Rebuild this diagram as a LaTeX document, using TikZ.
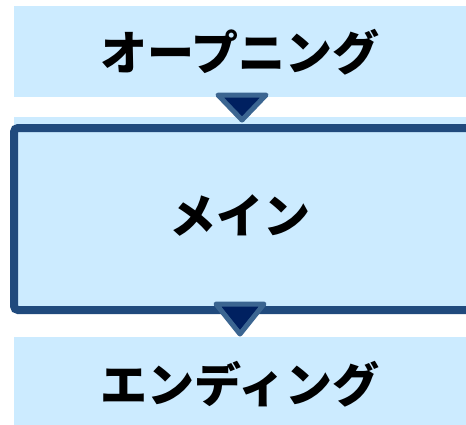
\documentclass[tikz,border=0pt]{standalone}
\usepackage{fontspec}
\newfontfamily\cjk{Noto Sans CJK JP}[BoldFont={Noto Sans CJK JP Black}]
\definecolor{lb}{HTML}{CCEBFF}
\definecolor{dk}{HTML}{204A7D}
\definecolor{tri}{HTML}{002060}
\definecolor{triedge}{HTML}{3B6591}
\tikzset{
  lbbox/.style={fill=lb, draw=none},
  lbl/.style={font=\cjk\bfseries\fontsize{47}{52}\selectfont, text=black, inner sep=0pt},
  arrowtri/.style={fill=tri, draw=triedge, line width=5pt, line join=round}
}
\begin{document}
\begin{tikzpicture}[x=1pt,y=-1pt]
\useasboundingbox (0,0) rectangle (466,424);
\fill[white] (0,0) rectangle (466,424);
% top box
\fill[lbbox] (14,6) rectangle (470,97);
\node[lbl] (open) at (240,52) {オープニング};
% main box
\fill[lbbox] (14,117) rectangle (470,312);
\draw[dk, line width=8pt, rounded corners=4pt, fill=lb] (14,128) rectangle (476,310);
\node[lbl] (main) at (240,216) {メイン};
% bottom box
\fill[lbbox] (14,337) rectangle (470,430);
\node[lbl] (end) at (240,384) {エンディング};
% triangles
\draw[arrowtri] (218,95) -- (266,95) -- (242,120) -- cycle;
\draw[arrowtri] (216,304) -- (264,304) -- (240,334) -- cycle;
\end{tikzpicture}
\end{document}
